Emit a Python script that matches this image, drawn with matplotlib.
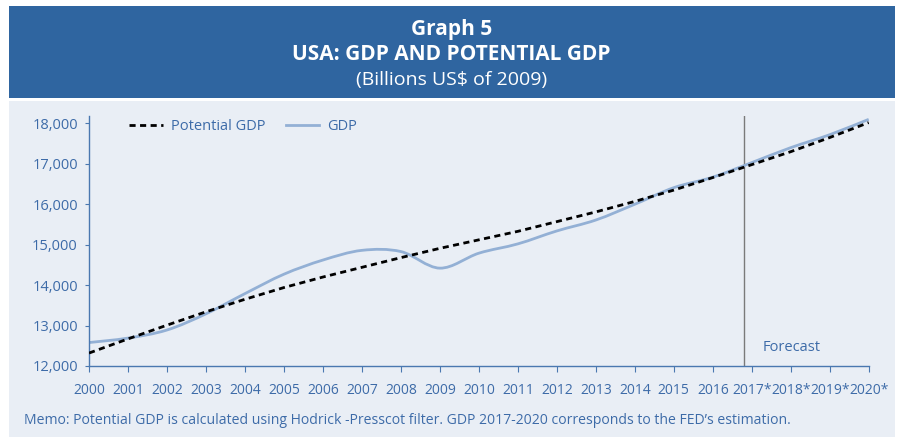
import numpy as np
import matplotlib.pyplot as plt
from matplotlib.path import Path
from matplotlib.patches import PathPatch, Rectangle
from matplotlib.lines import Line2D

plt.rcParams["font.family"] = ["Open Sans", "DejaVu Sans"]

# Data (billions US$ of 2009)
years = ["2000", "2001", "2002", "2003", "2004", "2005", "2006", "2007", "2008", "2009", "2010",
         "2011", "2012", "2013", "2014", "2015", "2016", "2017*", "2018*", "2019*", "2020*"]
gdp = [12580, 12690, 12890, 13290, 13790, 14270, 14620, 14860, 14830, 14420, 14790,
       15020, 15340, 15610, 16000, 16410, 16670, 17030, 17400, 17720, 18100]
potential = [12320, 12670, 13010, 13340, 13650, 13940, 14200, 14440, 14680, 14910, 15120,
             15330, 15570, 15810, 16070, 16350, 16660, 16980, 17300, 17650, 18020]
forecast_start = 16.8

blue_dark = "#2f65a0"
text_blue = "#3d6ba8"
bg = "#e9eef5"


def smooth_path(x, y, t=1 / 6):
    # Excel-like smoothed line: cubic Bezier segments through all points
    x = np.asarray(x, float)
    y = np.asarray(y, float)
    verts = [(x[0], y[0])]
    codes = [Path.MOVETO]
    n = len(x)
    for i in range(n - 1):
        p0 = i - 1 if i > 0 else i
        p3 = i + 2 if i + 2 < n else i + 1
        c1 = (x[i] + (x[i + 1] - x[p0]) * t, y[i] + (y[i + 1] - y[p0]) * t)
        c2 = (x[i + 1] - (x[p3] - x[i]) * t, y[i + 1] - (y[p3] - y[i]) * t)
        verts += [c1, c2, (x[i + 1], y[i + 1])]
        codes += [Path.CURVE4] * 3
    return Path(verts, codes)


fig = plt.figure(figsize=(9.03, 4.42), dpi=100)
W, H = 903, 442
fig.patches.append(Rectangle((9 / W, 1 - 437 / H), 886 / W, 336 / H, transform=fig.transFigure,
                             facecolor=bg, edgecolor="none", zorder=-10))
fig.patches.append(Rectangle((9 / W, 1 - 98 / H), 886 / W, 92 / H, transform=fig.transFigure,
                             facecolor=blue_dark, edgecolor="none", zorder=-10))
fig.text(0.5, 1 - 30 / H, "Graph 5", color="white", fontsize=15, fontweight="bold", ha="center", va="center")
fig.text(0.5, 1 - 55 / H, "USA: GDP AND POTENTIAL GDP", color="white", fontsize=15, fontweight="bold",
         ha="center", va="center")
fig.text(0.5, 1 - 80 / H, "(Billions US$ of 2009)", color="white", fontsize=14, ha="center", va="center")

ax = fig.add_axes([89 / W, 1 - 366 / H, (868.7 - 89) / W, (366 - 115.7) / H])
ax.set_facecolor("none")
x = np.arange(len(years))

ax.add_patch(PathPatch(smooth_path(x, gdp), fill=False, edgecolor="#93b0d5", lw=2.0, zorder=2,
                       capstyle="butt"))
ax.plot(x, potential, color="black", lw=2.0, dashes=(2.2, 1.6), zorder=3)
ax.axvline(forecast_start, color="#7a7a7a", lw=1.0, zorder=1)
ax.text(17.27, 12450, "Forecast", color=text_blue, fontsize=10.5, va="center", ha="left")

ax.set_xlim(0, 20)
ax.set_ylim(12000, 18190)
ax.set_xticks(x)
ax.set_xticklabels(years)
ax.set_yticks(range(12000, 18001, 1000))
ax.yaxis.set_major_formatter(plt.FuncFormatter(lambda v, p: f"{int(v):,}"))
for s in ["top", "right"]:
    ax.spines[s].set_visible(False)
for s in ["left", "bottom"]:
    ax.spines[s].set_color("#4a78b0")
    ax.spines[s].set_linewidth(1.0)
ax.tick_params(axis="x", colors="#4a78b0", labelcolor=text_blue, labelsize=10, length=4, pad=8)
ax.tick_params(axis="y", colors="#4a78b0", labelcolor=text_blue, labelsize=10.5, length=3, pad=5)

handles = [Line2D([], [], color="black", lw=2.0, dashes=(2.2, 1.6)),
           Line2D([], [], color="#93b0d5", lw=2.0)]
leg = ax.legend(handles, ["Potential GDP", "GDP"], loc="upper left", bbox_to_anchor=(0.035, 1.04),
                ncol=2, frameon=False, fontsize=10.5, handlelength=2.3, columnspacing=1.4,
                handletextpad=0.55)
for t in leg.get_texts():
    t.set_color(text_blue)

fig.text(24 / W, 1 - 421 / H,
         "Memo: Potential GDP is calculated using Hodrick -Presscot filter. GDP 2017-2020 corresponds to the FED\u2019s estimation.",
         color=text_blue, fontsize=10.1, va="center", ha="left")

fig.savefig("out.png", dpi=100, facecolor="white")
